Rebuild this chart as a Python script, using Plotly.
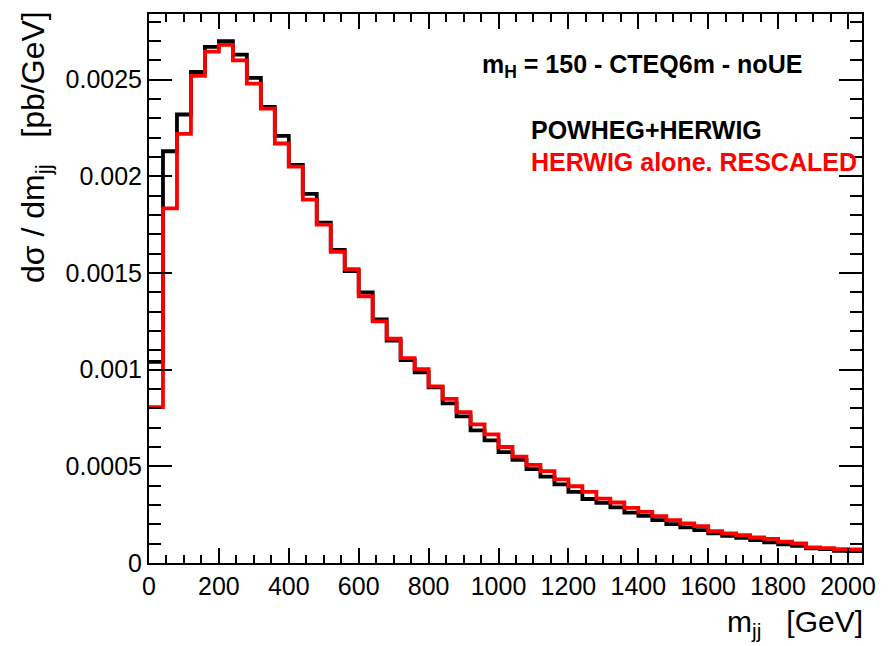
import plotly.graph_objects as go

# Bin edges: 40 GeV bins from 0 to 2040 GeV
bin_width = 40
n_bins = 51
bin_edges = [i * bin_width for i in range(n_bins + 1)]

powheg_herwig = [
    0.00104, 0.00213, 0.00232, 0.00254, 0.00267, 0.00270, 0.00263, 0.00251,
    0.00236, 0.00221, 0.00206, 0.00191, 0.00176, 0.00162, 0.00151, 0.00140,
    0.00126, 0.00115, 0.00105, 0.000986, 0.000909, 0.000826, 0.000759, 0.000686,
    0.000634, 0.000574, 0.000533, 0.000486, 0.000447, 0.000407, 0.000368, 0.000331,
    0.000311, 0.000288, 0.000261, 0.000244, 0.000222, 0.000201, 0.000184, 0.000170,
    0.000153, 0.000141, 0.000130, 0.000119, 0.000107, 0.000096, 0.000089, 0.000076,
    0.000072, 0.000063, 0.000062,
]

herwig_rescaled = [
    0.000806, 0.001835, 0.00222, 0.00252, 0.002645, 0.00268, 0.00260, 0.00248,
    0.00235, 0.00217, 0.00205, 0.00188, 0.00175, 0.00161, 0.00152, 0.00138,
    0.00125, 0.00116, 0.00106, 0.001003, 0.000914, 0.000849, 0.000780, 0.000717,
    0.000665, 0.000600, 0.000550, 0.000508, 0.000475, 0.000433, 0.000397, 0.000368,
    0.000333, 0.000313, 0.000285, 0.000264, 0.000242, 0.000222, 0.000205, 0.000191,
    0.000165, 0.000153, 0.000144, 0.000132, 0.000125, 0.000110, 0.000102, 0.000081,
    0.000077, 0.000072, 0.000070,
]

x_tick_vals = [0, 200, 400, 600, 800, 1000, 1200, 1400, 1600, 1800, 2000]
x_tick_text = ["0", "200", "400", "600", "800", "1000", "1200", "1400", "1600", "1800", "2000"]
y_tick_vals = [0, 0.0005, 0.001, 0.0015, 0.002, 0.0025]
y_tick_text = ["0", "0.0005", "0.001", "0.0015", "0.002", "0.0025"]

FONT = "Liberation Sans, Arial, Helvetica, sans-serif"

fig = go.Figure()
fig.add_trace(go.Scatter(
    x=bin_edges, y=powheg_herwig + [powheg_herwig[-1]],
    mode="lines", line=dict(shape="hv", color="black", width=3.8),
    name="POWHEG+HERWIG", showlegend=False, hoverinfo="skip",
))
fig.add_trace(go.Scatter(
    x=bin_edges, y=herwig_rescaled + [herwig_rescaled[-1]],
    mode="lines", line=dict(shape="hv", color="#ff0000", width=3.8),
    name="HERWIG alone. RESCALED", showlegend=False, hoverinfo="skip",
))

W, H = 888, 646
L, R, T, B = 149, 14, 13, 83
pw, ph = W - L - R, H - T - B

def px(xp):
    return (xp - L) / pw

def py(yp):
    return (H - B - yp) / ph

fig.update_layout(
    width=W, height=H,
    margin=dict(l=L, r=R, t=T, b=B, pad=0),
    paper_bgcolor="white", plot_bgcolor="white",
    font=dict(family=FONT, color="black"),
    xaxis=dict(
        range=[0, bin_edges[-1]], tickvals=x_tick_vals, ticktext=x_tick_text,
        ticks="inside", ticklen=15, tickwidth=1.5, tickcolor="black",
        showline=True, linewidth=2, linecolor="black", mirror="allticks",
        showgrid=False, zeroline=False,
        tickfont=dict(size=25, family=FONT),
        minor=dict(dtick=50, tick0=0, ticks="inside", ticklen=8, tickwidth=1.5,
                   tickcolor="black", showgrid=False),
    ),
    yaxis=dict(
        range=[0, 0.00284], tickvals=y_tick_vals, ticktext=y_tick_text,
        ticks="inside", ticklen=23, tickwidth=1.5, tickcolor="black",
        showline=True, linewidth=2, linecolor="black", mirror="allticks",
        showgrid=False, zeroline=False,
        tickfont=dict(size=25, family=FONT),
        minor=dict(dtick=0.0001, tick0=0, ticks="inside", ticklen=12, tickwidth=1.5,
                   tickcolor="black", showgrid=False),
    ),
)

nb = "\u00a0"
annotations = [
    dict(text="<b>m<sub>H</sub> = 150 - CTEQ6m - noUE</b>", x=px(486), y=py(65),
         xanchor="left", yanchor="middle", font=dict(size=25, color="black", family=FONT)),
    dict(text="<b>POWHEG+HERWIG</b>", x=px(535), y=py(129),
         xanchor="left", yanchor="middle", font=dict(size=25, color="black", family=FONT)),
    dict(text="<b>HERWIG alone. RESCALED</b>", x=px(535), y=py(161),
         xanchor="left", yanchor="middle", font=dict(size=25, color="#ff0000", family=FONT)),
    dict(text="m<sub>jj</sub>" + nb * 3 + "[GeV]", x=px(877), y=py(624),
         xanchor="right", yanchor="middle", font=dict(size=30, color="black", family=FONT)),
    dict(text="d\u03c3 / dm<sub>jj</sub>" + nb * 3 + "[pb/GeV]", x=px(33), y=py(8),
         xanchor="center", yanchor="top", textangle=-90,
         font=dict(size=32, color="black", family=FONT)),
]
for a in annotations:
    a.update(xref="paper", yref="paper", showarrow=False)
fig.update_layout(annotations=annotations)

fig.write_html("out.html")
